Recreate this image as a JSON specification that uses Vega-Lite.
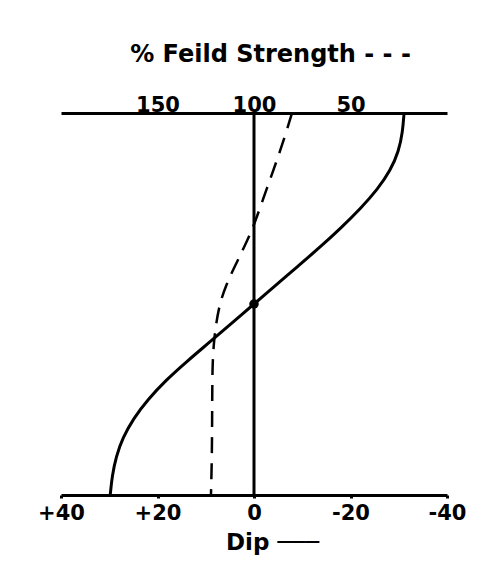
{
  "$schema": "https://vega.github.io/schema/vega-lite/v6.json",
  "width": 386,
  "height": 382,
  "autosize": {"type": "none"},
  "padding": {"left": 61, "top": 113, "right": 53, "bottom": 81},
  "background": "white",
  "config": {
    "view": {"stroke": null},
    "axis": {
      "grid": false,
      "domainColor": "black",
      "domainWidth": 3,
      "tickColor": "black",
      "tickWidth": 3,
      "tickSize": 3,
      "labelFont": "DejaVu Sans",
      "labelFontWeight": "bold",
      "labelFontSize": 21,
      "labelColor": "black",
      "titleFont": "DejaVu Sans",
      "titleFontWeight": "bold",
      "titleFontSize": 23,
      "titleColor": "black"
    }
  },
  "datasets": {
    "dip": [
      {"depth": 0, "dip": -31.1},
      {"depth": 5, "dip": -30.8},
      {"depth": 10, "dip": -30.0},
      {"depth": 15, "dip": -28.3},
      {"depth": 20, "dip": -25.6},
      {"depth": 25, "dip": -22.1},
      {"depth": 30, "dip": -18.1},
      {"depth": 35, "dip": -13.8},
      {"depth": 40, "dip": -9.2},
      {"depth": 45, "dip": -4.6},
      {"depth": 50, "dip": 0},
      {"depth": 55, "dip": 4.6},
      {"depth": 60, "dip": 9.2},
      {"depth": 65, "dip": 13.9},
      {"depth": 70, "dip": 18.3},
      {"depth": 75, "dip": 22.0},
      {"depth": 80, "dip": 25.0},
      {"depth": 85, "dip": 27.2},
      {"depth": 90, "dip": 28.6},
      {"depth": 95, "dip": 29.4},
      {"depth": 100, "dip": 29.8}
    ],
    "field": [
      {"depth": 0, "field": 80.3},
      {"depth": 5, "field": 83.3},
      {"depth": 10, "field": 86.5},
      {"depth": 15, "field": 90.0},
      {"depth": 20, "field": 93.5},
      {"depth": 25, "field": 97.0},
      {"depth": 30, "field": 100.5},
      {"depth": 35, "field": 105.0},
      {"depth": 40, "field": 109.8},
      {"depth": 45, "field": 114.5},
      {"depth": 50, "field": 117.8},
      {"depth": 55, "field": 119.6},
      {"depth": 60, "field": 120.8},
      {"depth": 65, "field": 121.4},
      {"depth": 70, "field": 121.6},
      {"depth": 80, "field": 121.7},
      {"depth": 90, "field": 121.8},
      {"depth": 100, "field": 122.3}
    ],
    "ref": [{"dip": 0, "depth": 50}]
  },
  "layer": [
    {
      "data": {"name": "dip"},
      "mark": {"type": "line", "interpolate": "basis", "color": "black", "strokeWidth": 3},
      "encoding": {
        "x": {
          "field": "dip", "type": "quantitative",
          "scale": {"domain": [-40, 40], "reverse": true, "nice": false, "zero": false},
          "axis": {
            "orient": "bottom",
            "values": [40, 20, 0, -20, -40],
            "labelExpr": "datum.value > 0 ? '+' + datum.value : (datum.value < 0 ? '-' + abs(datum.value) : '0')",
            "labelPadding": 4,
            "labelFlush": false,
            "labelOverlap": false,
            "title": "Dip ───",
            "titleX": 211,
            "titlePadding": 8
          }
        },
        "y": {
          "field": "depth", "type": "quantitative",
          "scale": {"domain": [0, 100], "reverse": true, "nice": false},
          "axis": null
        },
        "order": {"field": "depth", "type": "quantitative"}
      }
    },
    {
      "data": {"name": "field"},
      "mark": {"type": "line", "interpolate": "basis", "color": "black", "strokeWidth": 2.5, "strokeDash": [16, 10]},
      "encoding": {
        "x": {
          "field": "field", "type": "quantitative",
          "scale": {"domain": [0, 200], "reverse": true, "nice": false, "zero": false},
          "axis": {
            "orient": "top",
            "values": [150, 100, 50],
            "tickSize": 0,
            "labelPadding": -2,
            "labelFlush": false,
            "title": "% Feild Strength - - -",
            "titleFontSize": 24,
            "titleX": 209,
            "titlePadding": 28
          }
        },
        "y": {"field": "depth", "type": "quantitative", "scale": {"domain": [0, 100], "reverse": true, "nice": false}, "axis": null},
        "order": {"field": "depth", "type": "quantitative"}
      }
    },
    {
      "data": {"name": "ref"},
      "mark": {"type": "rule", "color": "black", "strokeWidth": 3},
      "encoding": {
        "x": {"field": "dip", "type": "quantitative", "scale": {"domain": [-40, 40], "reverse": true, "nice": false, "zero": false}, "axis": null}
      }
    },
    {
      "data": {"name": "ref"},
      "mark": {"type": "point", "filled": true, "color": "black", "size": 90, "opacity": 1},
      "encoding": {
        "x": {"field": "dip", "type": "quantitative", "scale": {"domain": [-40, 40], "reverse": true, "nice": false, "zero": false}, "axis": null},
        "y": {"field": "depth", "type": "quantitative", "scale": {"domain": [0, 100], "reverse": true, "nice": false}, "axis": null}
      }
    }
  ],
  "resolve": {"scale": {"x": "independent"}, "axis": {"x": "independent"}}
}
